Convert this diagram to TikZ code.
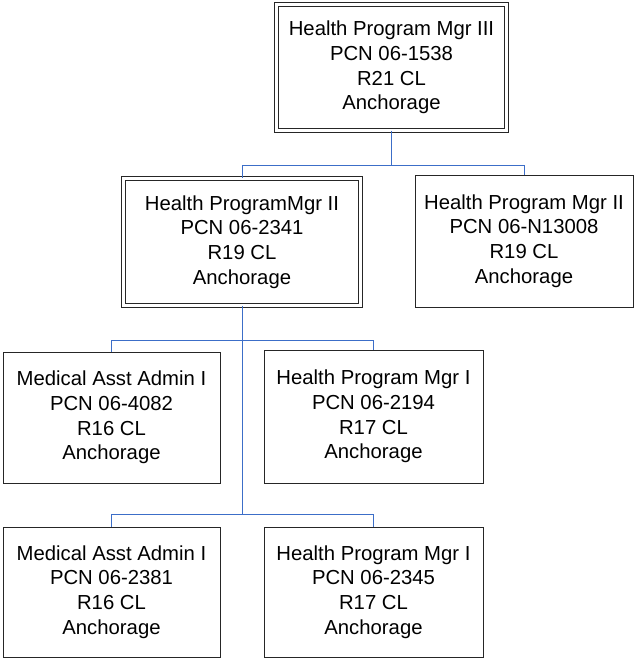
\documentclass[tikz,border=0pt]{standalone}
\usepackage{fontspec}
\setmainfont{Liberation Sans}
\definecolor{linkblue}{RGB}{60,110,200}
\tikzset{
  posbox/.style={draw=black!85, line width=.9pt, align=center,
    font=\fontsize{20.3}{24.6}\selectfont, inner sep=0pt},
  mgrbox/.style={posbox, double, double distance=3pt, line width=.9pt},
  link/.style={draw=linkblue, line width=1pt}
}
\begin{document}
\begin{tikzpicture}[x=1pt, y=-1pt]
    \useasboundingbox (0,0) rectangle (635,659);

    \node[mgrbox, minimum width=230pt, minimum height=126pt] (mgr3) at (391.5,67.5)
      {Health Program Mgr III\\PCN 06-1538\\R21 CL\\Anchorage};
    \node[mgrbox, minimum width=237pt, minimum height=127pt] (mgr2a) at (242,242)
      {Health ProgramMgr II\\PCN 06-2341\\R19 CL\\Anchorage};
    \node[posbox, minimum width=218pt, minimum height=132pt] (mgr2b) at (524,241)
      {Health Program Mgr II\\PCN 06-N13008\\R19 CL\\Anchorage};

    \node[posbox, minimum width=217pt, minimum height=131pt] (admA) at (111.5,417.5)
      {Medical Asst Admin I\\PCN 06-4082\\R16 CL\\Anchorage};
    \node[posbox, minimum width=219pt, minimum height=133pt] (mgr1a) at (373.5,416.5)
      {Health Program Mgr I\\PCN 06-2194\\R17 CL\\Anchorage};
    \node[posbox, minimum width=217pt, minimum height=130pt] (admB) at (111.5,592)
      {Medical Asst Admin I\\PCN 06-2381\\R16 CL\\Anchorage};
    \node[posbox, minimum width=219pt, minimum height=130pt] (mgr1b) at (373.5,592)
      {Health Program Mgr I\\PCN 06-2345\\R17 CL\\Anchorage};

    \coordinate (bus1) at (mgr3.south |- 0,165);
    \coordinate (bus2) at (mgr2a.south |- 0,340);
    \coordinate (bus3) at (mgr2a.south |- 0,514);

    \draw[link] (mgr3.south) -- (bus1) -| (mgr2a.north);
    \draw[link] (bus1) -| (mgr2b.north);
    \draw[link] (mgr2a.south) -- (bus3);
    \draw[link] (bus2) -| (admA.north);
    \draw[link] (bus2) -| (mgr1a.north);
    \draw[link] (bus3) -| (admB.north);
    \draw[link] (bus3) -| (mgr1b.north);
  \end{tikzpicture}
\end{document}
